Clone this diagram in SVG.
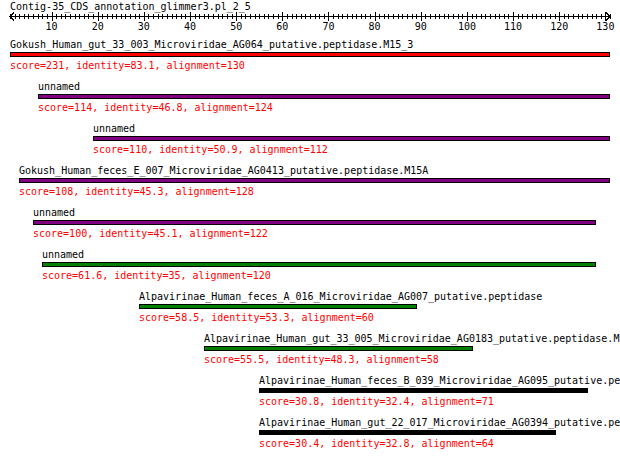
<svg xmlns="http://www.w3.org/2000/svg" width="620" height="461" viewBox="0 0 620 461">
<style>
text{font-family:"DejaVu Sans Mono","Liberation Mono",monospace;font-size:10px;fill:#000}
.sc{fill:#ff0000}
.mid{text-anchor:middle}
.bar{stroke:#000;stroke-width:1;shape-rendering:crispEdges}
.red{fill:#ff0000}.pur{fill:#800080}.grn{fill:#008000}.blk{fill:#000}
.ax{stroke:#000;fill:none;shape-rendering:crispEdges}
</style>
<rect width="620" height="461" fill="#fff"/>
<g id="ruler">
<text x="10" y="10">Contig-35_CDS_annotation_glimmer3.pl_2_5</text>
<line class="ax" x1="10" y1="16.5" x2="610" y2="16.5"/>
<line class="ax" x1="10" y1="16.5" x2="611" y2="16.5" stroke-width="5" stroke-dasharray="1 3.615385"/>
<line class="ax" x1="51.54" y1="16.5" x2="607" y2="16.5" stroke-width="9" stroke-dasharray="1 45.15385"/>
<path class="ax" d="M14,12.5L10,16.5L14,20.5M606,12.5L610,16.5L606,20.5"/>
<text class="mid" x="51.54" y="30">10</text>
<text class="mid" x="97.69" y="30">20</text>
<text class="mid" x="143.85" y="30">30</text>
<text class="mid" x="190" y="30">40</text>
<text class="mid" x="236.15" y="30">50</text>
<text class="mid" x="282.31" y="30">60</text>
<text class="mid" x="328.46" y="30">70</text>
<text class="mid" x="374.62" y="30">80</text>
<text class="mid" x="420.77" y="30">90</text>
<text class="mid" x="466.92" y="30">100</text>
<text class="mid" x="513.08" y="30">110</text>
<text class="mid" x="559.23" y="30">120</text>
<text class="mid" x="605.38" y="30">130</text>
</g>
<g id="connectors"/>
<g id="hit1">
<text x="10" y="48">Gokush_Human_gut_33_003_Microviridae_AG064_putative.peptidase.M15_3</text>
<rect class="bar red" x="10.5" y="52.5" width="599" height="4"/>
<text class="sc" x="10" y="69">score=231, identity=83.1, alignment=130</text>
</g>
<g id="hit2">
<text x="38" y="90">unnamed</text>
<rect class="bar pur" x="38.5" y="94.5" width="571" height="4"/>
<text class="sc" x="38" y="111">score=114, identity=46.8, alignment=124</text>
</g>
<g id="hit3">
<text x="93" y="132">unnamed</text>
<rect class="bar pur" x="93.5" y="136.5" width="516" height="4"/>
<text class="sc" x="93" y="153">score=110, identity=50.9, alignment=112</text>
</g>
<g id="hit4">
<text x="19" y="174">Gokush_Human_feces_E_007_Microviridae_AG0413_putative.peptidase.M15A</text>
<rect class="bar pur" x="19.5" y="178.5" width="590" height="4"/>
<text class="sc" x="19" y="195">score=108, identity=45.3, alignment=128</text>
</g>
<g id="hit5">
<text x="33" y="216">unnamed</text>
<rect class="bar pur" x="33.5" y="220.5" width="562" height="4"/>
<text class="sc" x="33" y="237">score=100, identity=45.1, alignment=122</text>
</g>
<g id="hit6">
<text x="42" y="258">unnamed</text>
<rect class="bar grn" x="42.5" y="262.5" width="553" height="4"/>
<text class="sc" x="42" y="279">score=61.6, identity=35, alignment=120</text>
</g>
<g id="hit7">
<text x="139" y="300">Alpavirinae_Human_feces_A_016_Microviridae_AG007_putative.peptidase</text>
<rect class="bar grn" x="139.5" y="304.5" width="277" height="4"/>
<text class="sc" x="139" y="321">score=58.5, identity=53.3, alignment=60</text>
</g>
<g id="hit8">
<text x="204" y="342">Alpavirinae_Human_gut_33_005_Microviridae_AG0183_putative.peptidase.M1</text>
<rect class="bar grn" x="204.5" y="346.5" width="268" height="4"/>
<text class="sc" x="204" y="363">score=55.5, identity=48.3, alignment=58</text>
</g>
<g id="hit9">
<text x="259" y="384">Alpavirinae_Human_feces_B_039_Microviridae_AG095_putative.pep</text>
<rect class="bar blk" x="259.5" y="388.5" width="328" height="4"/>
<text class="sc" x="259" y="405">score=30.8, identity=32.4, alignment=71</text>
</g>
<g id="hit10">
<text x="259" y="426">Alpavirinae_Human_gut_22_017_Microviridae_AG0394_putative.pep</text>
<rect class="bar blk" x="259.5" y="430.5" width="296" height="4"/>
<text class="sc" x="259" y="447">score=30.4, identity=32.8, alignment=64</text>
</g>
</svg>
